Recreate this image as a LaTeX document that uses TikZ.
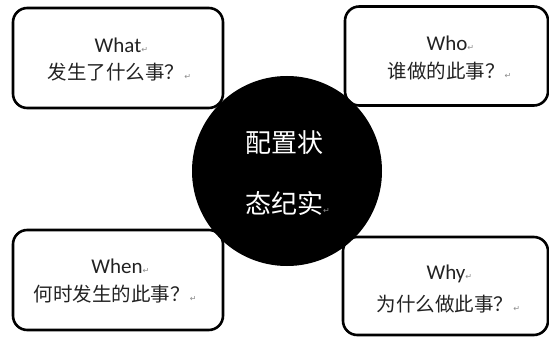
\documentclass[tikz,border=0pt]{standalone}
\usepackage{fontspec}
\setmainfont{Carlito}
\newfontfamily\cjk{Noto Sans CJK SC}
\newfontfamily\sym{DejaVu Sans}
\usetikzlibrary{positioning}
\definecolor{txtColor}{HTML}{222222}
\definecolor{retColor}{HTML}{8A8A8A}
\newcommand{\ret}{\rlap{\textcolor{retColor}{\sym\fontsize{8}{8}\selectfont ↵}}}

\begin{document}
\begin{tikzpicture}[x=1pt, y=-1pt, semithick,
		box/.style={draw, line width=2.6pt, rounded corners=5mm},
		txt/.style={inner sep=0, outer sep=0, text=txtColor, font=\fontsize{21}{21}\selectfont},
		cn/.style={txt, font=\cjk\fontsize{19.5}{19.5}\selectfont}]
	\useasboundingbox (0,0) rectangle (549,337);
	\node[box, minimum width=210, minimum height=100] (b1) at (118, 58) {};
	\node[txt] (b11) at (118, 45) {What\ret};
	\node[cn] (b12) at (116, 72) {发生了什么事？\ret};
	\node[box, minimum width=203, minimum height=99] (b2) at (446.5, 56) {};
	\node[txt] (b21) at (447, 43) {Who\ret};
	\node[cn] (b22) at (446, 71) {谁做的此事？\ret};
	\node[box, minimum width=210, minimum height=100] (b3) at (118, 280) {};
	\node[txt] (b31) at (117, 266) {When\ret};
	\node[cn] (b32) at (112, 294) {何时发生的此事？\ret};
	\node[box, minimum width=205, minimum height=98] (b4) at (445.5, 286) {};
	\node[txt] (b41) at (446, 274) {Why\ret};
	\node[cn] (b42) at (445, 304) {为什么做此事？\ret};
	\node[circle, fill=black, minimum size=190, inner sep=0] (c) at (287, 171) {};
	\node[cn, text=white, font=\cjk\fontsize{26}{26}\selectfont] (c1) at (284, 143) {配置状};
	\node[cn, text=white, font=\cjk\fontsize{26}{26}\selectfont] (c2) at (284, 203) {态纪实\ret};
\end{tikzpicture}
\end{document}
